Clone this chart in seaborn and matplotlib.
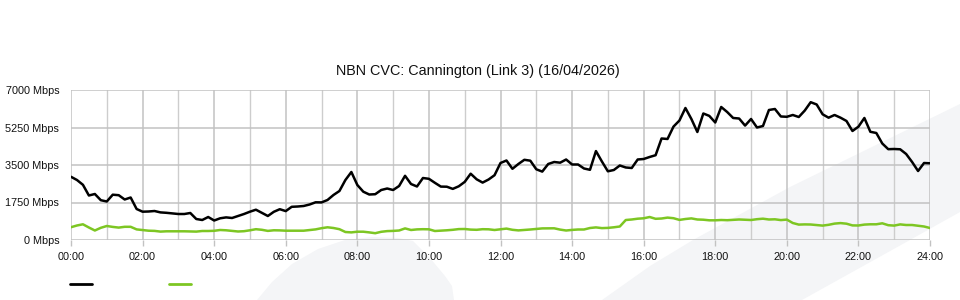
import numpy as np
import pandas as pd
import matplotlib
matplotlib.use("Agg")
import matplotlib.pyplot as plt
from matplotlib.patches import Polygon
from matplotlib.lines import Line2D
import seaborn as sns

TITLE = "NBN CVC: Cannington (Link 3) (16/04/2026)"
SAMPLES_PER_HOUR = 6  # 10-minute samples

# Mbps, 10-minute samples from 00:00 to 24:00
SERIES_BLACK = [
    2950, 2800, 2576, 2077, 2147, 1857, 1797, 2114, 2091, 1890, 1983, 1447, 1321,
    1330, 1353, 1288, 1269, 1241, 1213, 1213, 1260, 980, 933, 1073, 910, 1013,
    1055, 1027, 1120, 1213, 1321, 1414, 1269, 1120, 1316, 1437, 1349, 1549, 1563,
    1587, 1657, 1759, 1755, 1867, 2100, 2287, 2800, 3173, 2567, 2254, 2123, 2137,
    2333, 2403, 2333, 2520, 2996, 2613, 2497, 2893, 2856, 2669, 2492, 2487, 2385,
    2506, 2711, 3094, 2833, 2679, 2823, 3024, 3593, 3710, 3323, 3547, 3743, 3701,
    3300, 3192, 3547, 3640, 3608, 3757, 3524, 3524, 3337, 3276, 4150, 3663, 3206,
    3267, 3477, 3384, 3360, 3757, 3780, 3874, 3957, 4737, 4714, 5292, 5577, 6160,
    5647, 5040, 5904, 5792, 5484, 6207, 5973, 5694, 5670, 5339, 5647, 5250, 5320,
    6067, 6114, 5764, 5750, 5834, 5740, 6039, 6431, 6324, 5866, 5708, 5834, 5708,
    5554, 5087, 5288, 5694, 5050, 4994, 4504, 4238, 4247, 4233, 4014, 3640, 3220,
    3593, 3580,
]
SERIES_GREEN = [
    597, 677, 733, 583, 443, 569, 653, 611, 579, 616, 616, 495, 467, 434, 425, 392,
    406, 406, 406, 406, 397, 392, 420, 420, 429, 467, 453, 425, 397, 411, 453, 504,
    476, 425, 453, 448, 434, 434, 434, 434, 467, 495, 551, 593, 560, 504, 373, 355,
    387, 387, 355, 317, 383, 415, 425, 443, 541, 467, 495, 504, 499, 420, 434, 453,
    476, 509, 513, 485, 476, 504, 499, 467, 499, 532, 476, 448, 467, 490, 513, 541,
    546, 546, 485, 443, 471, 490, 490, 560, 588, 555, 565, 593, 630, 933, 957, 994,
    1013, 1073, 989, 1003, 1045, 1017, 938, 980, 1008, 957, 947, 919, 919, 933, 924,
    943, 957, 943, 933, 971, 994, 957, 966, 929, 952, 793, 719, 728, 723, 700, 672,
    709, 765, 789, 761, 681, 677, 719, 733, 733, 779, 691, 672, 728, 700, 700, 667,
    630, 560,
]

Y_TICKS = [0, 1750, 3500, 5250, 7000]
Y_TICK_LABELS = ["0 Mbps", "1750 Mbps", "3500 Mbps", "5250 Mbps", "7000 Mbps"]
X_TICKS = [0, 2, 4, 6, 8, 10, 12, 14, 16, 18, 20, 22, 24]
X_TICK_LABELS = ["00:00", "02:00", "04:00", "06:00", "08:00", "10:00", "12:00",
                 "14:00", "16:00", "18:00", "20:00", "22:00", "24:00"]

BLACK = "#000000"
GREEN = "#7dc623"

hours = np.arange(len(SERIES_BLACK)) / SAMPLES_PER_HOUR
df = pd.DataFrame({"hour": hours, "black": SERIES_BLACK, "green": SERIES_GREEN})

sns.set_theme(style="white")
plt.rcParams["font.family"] = ["Liberation Sans", "DejaVu Sans"]

W, H = 960, 300
fig = plt.figure(figsize=(9.6, 3.0), dpi=100)
fig.patch.set_facecolor("white")

# faint decorative background shapes (figure pixel coords -> fraction)
def fpoly(pts):
    return [(x / W, 1 - y / H) for x, y in pts]

leaf = fpoly([(257, 300), (272, 282), (292, 264), (318, 249), (345, 240),
              (372, 237), (398, 238), (413, 241), (430, 258), (445, 276),
              (452, 286), (454, 300)])
band = fpoly([(602, 300), (650, 266), (693, 240), (790, 187), (960, 104),
              (960, 212), (910, 240), (802, 300)])
for p in (leaf, band):
    fig.add_artist(Polygon(p, closed=True, transform=fig.transFigure,
                           facecolor="#f4f5f7", edgecolor="none", zorder=-5))

ax = fig.add_axes([71 / W, 1 - 240 / H, (930 - 71) / W, 150 / H])
ax.set_facecolor("none")
ax.set_zorder(1)

sns.lineplot(data=df, x="hour", y="black", ax=ax, color=BLACK, lw=1.8, zorder=3)
sns.lineplot(data=df, x="hour", y="green", ax=ax, color=GREEN, lw=1.8, zorder=3)

ax.set_xlim(0, 24)
ax.set_ylim(0, 7000)
ax.set_xticks(X_TICKS)
ax.set_xticklabels(X_TICK_LABELS)
ax.set_xticks(np.arange(1, 24, 2), minor=True)
ax.set_yticks(Y_TICKS)
ax.set_yticklabels(Y_TICK_LABELS)
ax.set_xlabel("")
ax.set_ylabel("")

for s in ax.spines.values():
    s.set_visible(False)

ax.grid(True, which="major", axis="both", color="#c2c2c2", lw=1.1, zorder=1)
ax.grid(True, which="minor", axis="x", color="#cdcdcd", lw=1.0, zorder=1)
ax.set_axisbelow(True)

ax.tick_params(axis="x", which="major", length=4, width=1, color="#c2c2c2",
               pad=5, labelsize=7.8, labelcolor="#111111", bottom=True)
ax.tick_params(axis="x", which="minor", length=0)
ax.tick_params(axis="y", which="major", length=0, pad=8.5, labelsize=7.8,
               labelcolor="#111111")

fig.text(478 / W, 1 - 71 / H, TITLE, ha="center", va="center", fontsize=10.4,
         color="#111111")

handles = [Line2D([], [], color=BLACK, lw=2), Line2D([], [], color=GREEN, lw=2)]
fig.legend(handles, [" ", " "], loc="center left",
           bbox_to_anchor=(70 / W, 1 - 285 / H), ncol=2, frameon=False,
           fontsize=7.8, handlelength=2.0, handletextpad=0.8, columnspacing=6.1,
           borderpad=0, borderaxespad=0)

fig.savefig("out.png", dpi=100, facecolor="white")
